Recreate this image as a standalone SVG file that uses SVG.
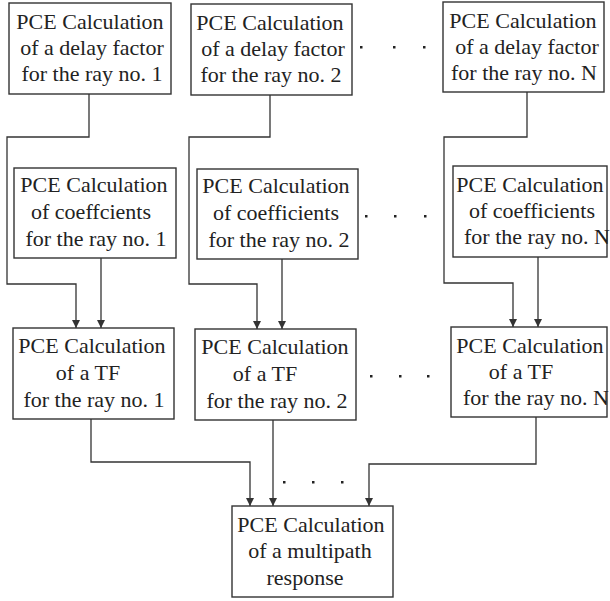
<svg xmlns="http://www.w3.org/2000/svg" width="610" height="601" viewBox="0 0 610 601">
<style>
rect.box{fill:#fff;stroke:#333;stroke-width:1.4}
text{font-family:"Liberation Serif","Times New Roman",serif;font-size:22px;fill:#222;text-anchor:middle}
.c{fill:none;stroke:#333;stroke-width:1.3}
.dot{fill:#222}
</style>
<defs>
<marker id="ah" markerWidth="8" markerHeight="10" refX="8" refY="5" orient="auto" markerUnits="userSpaceOnUse" viewBox="0 0 8 10">
<path d="M0,1 L8,5 L0,9 Z" fill="#333"/>
</marker>
</defs>
<rect width="610" height="601" fill="#fff"/>
<g id="connectors">
<path class="c" d="M89,94 V137 H7 V284 H76 V328" marker-end="url(#ah)"/>
<path class="c" d="M101,258 V328" marker-end="url(#ah)"/>
<path class="c" d="M270,95 V137 H189 V284 H257 V329" marker-end="url(#ah)"/>
<path class="c" d="M282,259 V329" marker-end="url(#ah)"/>
<path class="c" d="M527,92 V137 H444 V283 H513 V327" marker-end="url(#ah)"/>
<path class="c" d="M538,257 V327" marker-end="url(#ah)"/>
<path class="c" d="M91,419 V462 H250 V506" marker-end="url(#ah)"/>
<path class="c" d="M273,420 V506" marker-end="url(#ah)"/>
<path class="c" d="M536,417 V464 H369 V506" marker-end="url(#ah)"/>
</g>
<g id="a1"><rect class="box" x="9" y="3" width="162" height="91"/>
<text x="90" y="29">PCE Calculation</text><text x="92" y="55">of a delay factor</text><text x="92" y="81">for the ray no. 1</text></g>
<g id="a2"><rect class="box" x="191" y="4" width="161" height="91"/>
<text x="270" y="30">PCE Calculation</text><text x="273" y="56">of a delay factor</text><text x="271" y="82">for the ray no. 2</text></g>
<g id="aN"><rect class="box" x="443" y="2" width="161" height="90"/>
<text x="523" y="28">PCE Calculation</text><text x="527" y="54">of a delay factor</text><text x="524" y="80">for the ray no. N</text></g>
<g id="b1"><rect class="box" x="14" y="168" width="162" height="90"/>
<text x="94" y="192">PCE Calculation</text><text x="91" y="219">of coeffcients</text><text x="96" y="246">for the ray no. 1</text></g>
<g id="b2"><rect class="box" x="197" y="169" width="161" height="90"/>
<text x="276" y="193">PCE Calculation</text><text x="276" y="220">of coefficients</text><text x="279" y="247">for the ray no. 2</text></g>
<g id="bN"><rect class="box" x="453" y="166" width="154" height="91"/>
<text x="530" y="192">PCE Calculation</text><text x="532" y="218">of coefficients</text><text x="537" y="244">for the ray no. N</text></g>
<g id="c1"><rect class="box" x="13" y="328" width="161" height="91"/>
<text x="92" y="353">PCE Calculation</text><text x="88" y="380">of a TF</text><text x="94" y="407">for the ray no. 1</text></g>
<g id="c2"><rect class="box" x="195" y="329" width="161" height="91"/>
<text x="275" y="354">PCE Calculation</text><text x="265" y="381">of a TF</text><text x="277" y="408">for the ray no. 2</text></g>
<g id="cN"><rect class="box" x="451" y="327" width="156" height="90"/>
<text x="530" y="353">PCE Calculation</text><text x="521" y="379">of a TF</text><text x="536" y="405">for the ray no. N</text></g>
<g id="d"><rect class="box" x="232" y="506" width="161" height="91"/>
<text x="311" y="532">PCE Calculation</text><text x="310" y="558">of a multipath</text><text x="305" y="585">response</text></g>
<g id="dots">
<rect class="dot" x="360" y="46" width="2.5" height="2.5"/><rect class="dot" x="393" y="46" width="2.5" height="2.5"/><rect class="dot" x="423" y="46" width="2.5" height="2.5"/>
<rect class="dot" x="365" y="215" width="2.5" height="2.5"/><rect class="dot" x="394" y="215" width="2.5" height="2.5"/><rect class="dot" x="424" y="215" width="2.5" height="2.5"/>
<rect class="dot" x="370" y="375" width="2.5" height="2.5"/><rect class="dot" x="399" y="375" width="2.5" height="2.5"/><rect class="dot" x="427" y="375" width="2.5" height="2.5"/>
<rect class="dot" x="283" y="481" width="2.5" height="2.5"/><rect class="dot" x="312" y="481" width="2.5" height="2.5"/><rect class="dot" x="341" y="481" width="2.5" height="2.5"/>
</g>
</svg>
